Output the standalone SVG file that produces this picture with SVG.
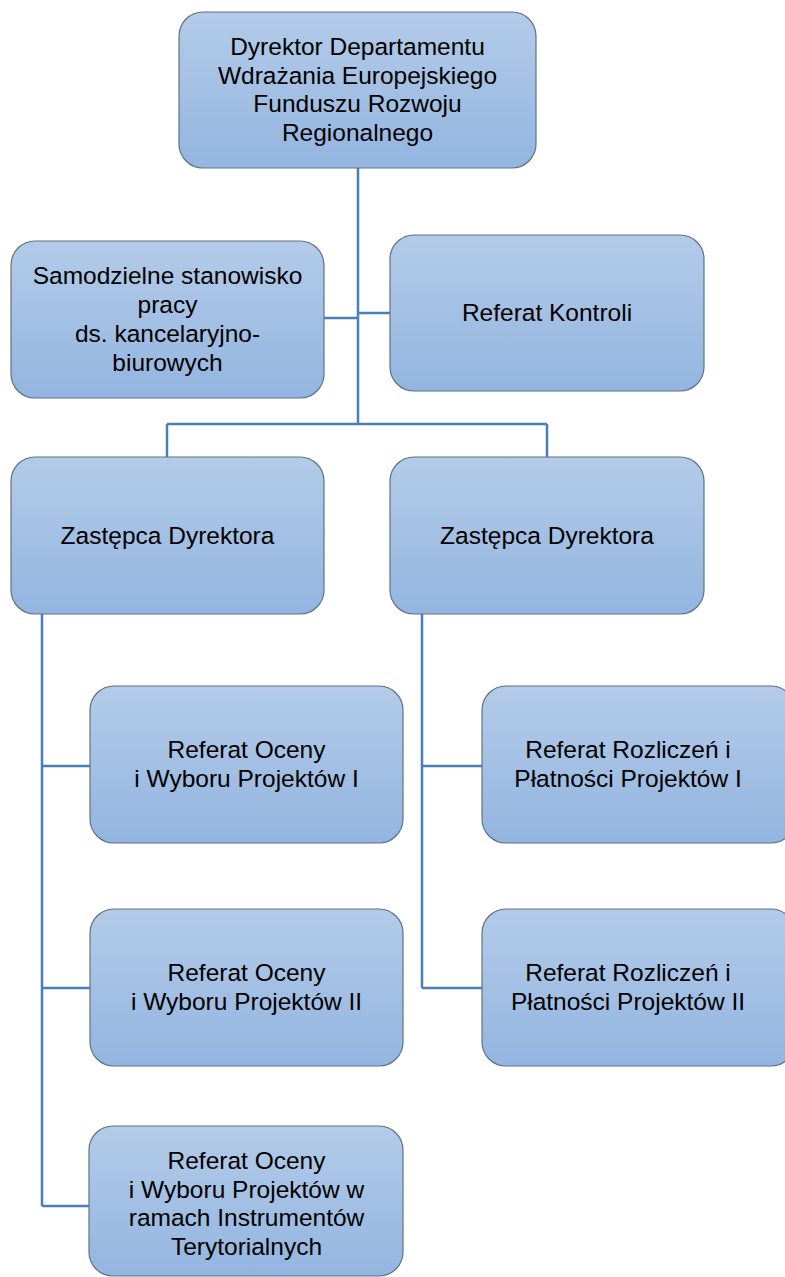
<svg xmlns="http://www.w3.org/2000/svg" width="785" height="1277" viewBox="0 0 785 1277">
<defs>
<linearGradient id="g" x1="0" y1="0" x2="0" y2="1">
<stop offset="0" stop-color="#b3cbe8"/>
<stop offset="1" stop-color="#93b5e0"/>
</linearGradient>
<style>
.box{fill:url(#g);stroke:#5f7286;stroke-width:1.2}
.t{font-family:"Liberation Sans",Arial,sans-serif;font-size:24.5px;fill:#000;text-anchor:middle}
.c{fill:none;stroke:#4a7ebb;stroke-width:2.5}
</style>
</defs>
<rect width="785" height="1277" fill="#fff"/>
<g id="connectors">
<path class="c" d="M358 168V424M324 318H358M358 313H390M167 424H547M167 424V457M547 424V457"/>
<path class="c" d="M42 614V1206M42 766H90M42 988H90M42 1206H89"/>
<path class="c" d="M422 614V988M422 766H482M422 988H482"/>
</g>
<g id="n-dyrektor">
<rect class="box" x="179" y="12" width="357" height="156" rx="24"/>
<text class="t"><tspan x="357.5" y="55">Dyrektor Departamentu</tspan><tspan x="357.5" y="83.5">Wdrażania Europejskiego</tspan><tspan x="357.5" y="112">Funduszu Rozwoju</tspan><tspan x="357.5" y="140.5">Regionalnego</tspan></text>
</g>
<g id="n-samodzielne">
<rect class="box" x="11" y="241" width="313" height="157" rx="24"/>
<text class="t"><tspan x="167.5" y="284">Samodzielne stanowisko</tspan><tspan x="167.5" y="313">pracy</tspan><tspan x="167.5" y="342">ds. kancelaryjno-</tspan><tspan x="167.5" y="371">biurowych</tspan></text>
</g>
<g id="n-kontrola">
<rect class="box" x="390" y="235" width="314" height="156" rx="24"/>
<text class="t" x="547" y="321">Referat Kontroli</text>
</g>
<g id="n-zastepca-l">
<rect class="box" x="11" y="457" width="313" height="157" rx="24"/>
<text class="t" x="167.5" y="543.5">Zastępca Dyrektora</text>
</g>
<g id="n-zastepca-r">
<rect class="box" x="390" y="457" width="314" height="157" rx="24"/>
<text class="t" x="547" y="543.5">Zastępca Dyrektora</text>
</g>
<g id="n-ocena1">
<rect class="box" x="90" y="686" width="313" height="157" rx="24"/>
<text class="t"><tspan x="246.5" y="758">Referat Oceny</tspan><tspan x="246.5" y="786.5">i Wyboru Projektów I</tspan></text>
</g>
<g id="n-ocena2">
<rect class="box" x="90" y="909" width="313" height="157" rx="24"/>
<text class="t"><tspan x="246.5" y="981">Referat Oceny</tspan><tspan x="246.5" y="1009.5">i Wyboru Projektów II</tspan></text>
</g>
<g id="n-ocena3">
<rect class="box" x="89" y="1126" width="314" height="150" rx="24"/>
<text class="t"><tspan x="246.5" y="1169">Referat Oceny</tspan><tspan x="246.5" y="1197.5">i Wyboru Projektów w</tspan><tspan x="246.5" y="1226">ramach Instrumentów</tspan><tspan x="246.5" y="1254.5">Terytorialnych</tspan></text>
</g>
<g id="n-rozliczenia1">
<rect class="box" x="482" y="686" width="313" height="157" rx="24"/>
<text class="t"><tspan x="628" y="758">Referat Rozliczeń i</tspan><tspan x="628" y="786.5">Płatności Projektów I</tspan></text>
</g>
<g id="n-rozliczenia2">
<rect class="box" x="482" y="909" width="313" height="157" rx="24"/>
<text class="t"><tspan x="628" y="981">Referat Rozliczeń i</tspan><tspan x="628" y="1009.5">Płatności Projektów II</tspan></text>
</g>
</svg>
